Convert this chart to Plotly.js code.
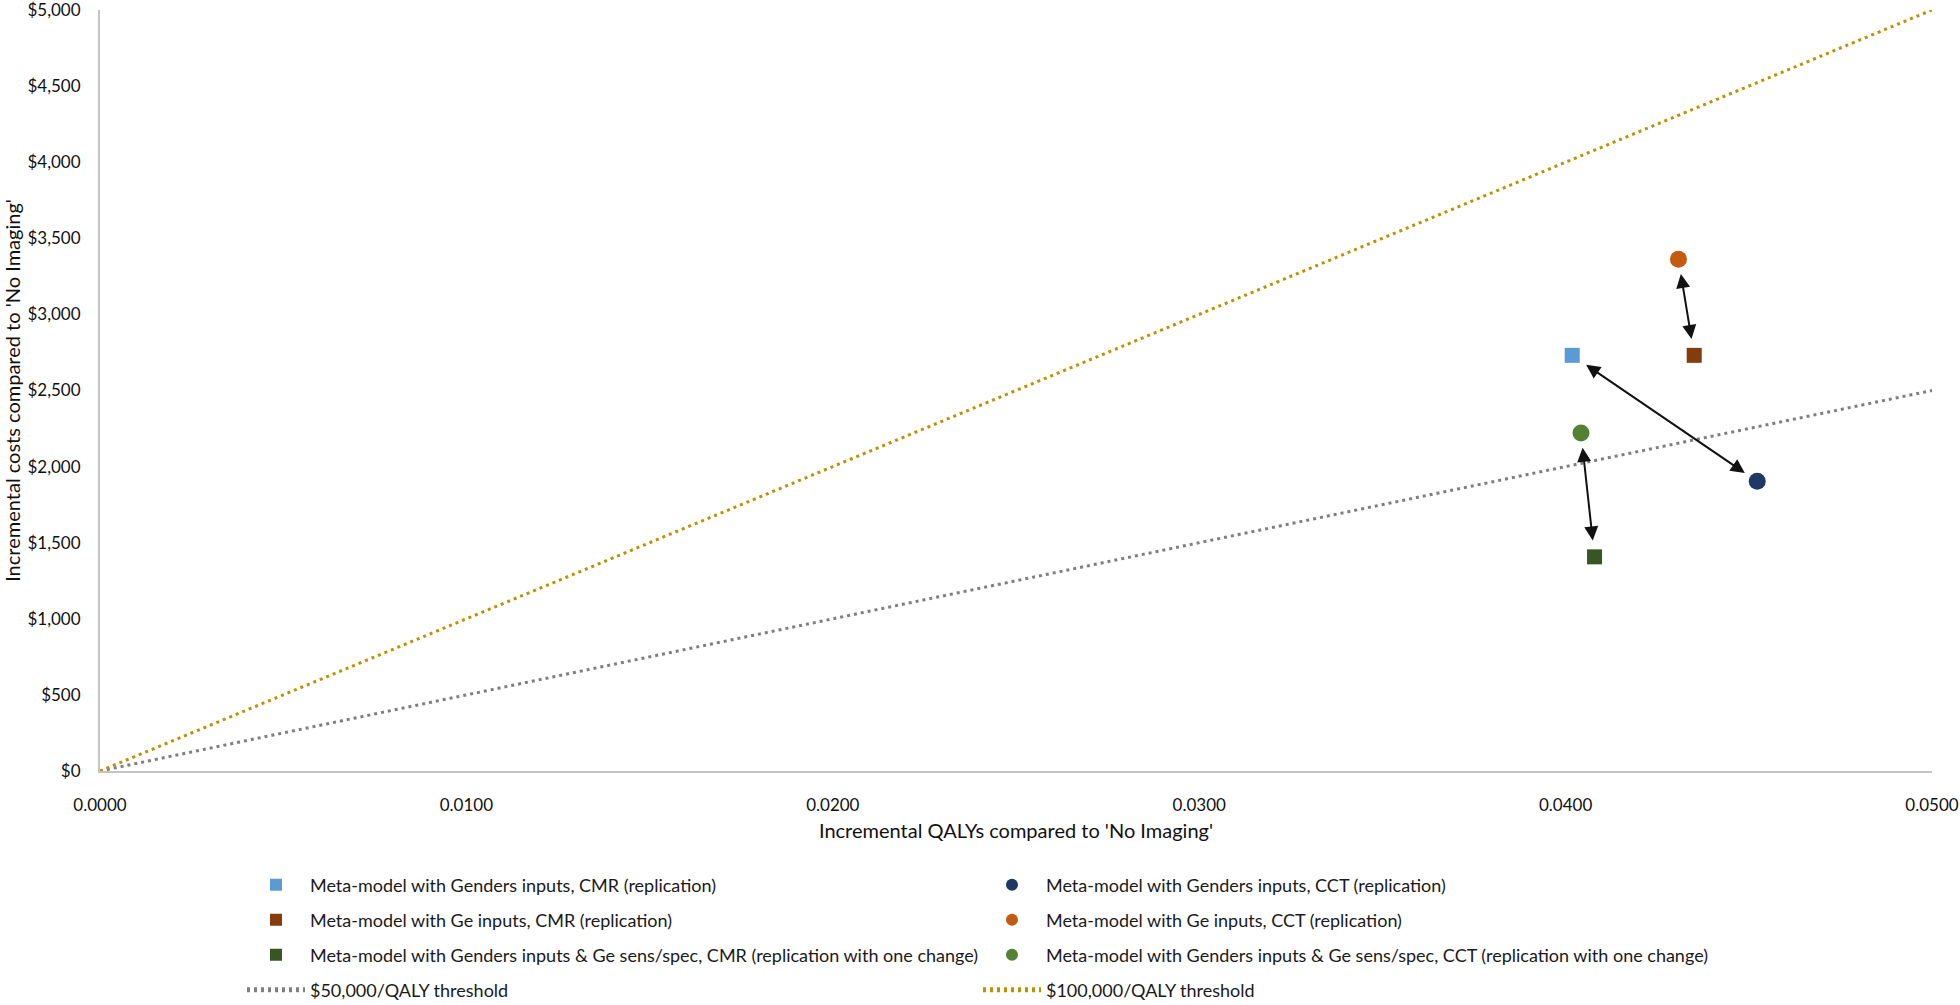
<!DOCTYPE html>
<html>
<head>
<meta charset="utf-8">
<script src="https://cdn.plot.ly/plotly-3.0.1.min.js"></script>
<style>
  html, body { margin: 0; padding: 0; background: #fff; }
  #plot { width: 1960px; height: 1005px; }
</style>
</head>
<body>
<div id="plot"></div>
<script>
// CMR results (squares): Genders inputs, Ge inputs, Genders inputs & Ge sens/spec
var cmrNames = [
  "Meta-model with Genders inputs, CMR (replication)",
  "Meta-model with Ge inputs, CMR (replication)",
  "Meta-model with Genders inputs & Ge sens/spec, CMR (replication with one change)"
];
var cmrQaly = [0.04018, 0.04351, 0.04079];
var cmrCost = [2731, 2731, 1407];

// CCT results (circles), same order
var cctNames = [
  "Meta-model with Genders inputs, CCT (replication)",
  "Meta-model with Ge inputs, CCT (replication)",
  "Meta-model with Genders inputs & Ge sens/spec, CCT (replication with one change)"
];
var cctQaly = [0.04523, 0.04308, 0.04042];
var cctCost = [1903, 3362, 2221];

// willingness-to-pay threshold lines
var thresholdNames = ["$50,000/QALY threshold", "$100,000/QALY threshold"];
var thresholdQaly = [0, 0.05];
var cost50k = [0, 2500];
var cost100k = [0, 5000];

var cmrColors = ["#5B9BD5", "#843C0C", "#375623"];
var cctColors = ["#1F3864", "#C55A11", "#548235"];

var FONT = "Lato, 'Open Sans', sans-serif";

var data = [];
var legendIds = ["legend", "legend2", "legend3"];
for (var i = 0; i < 3; i++) {
  data.push({
    x: [cmrQaly[i]], y: [cmrCost[i]],
    name: cmrNames[i], type: "scatter", mode: "markers",
    marker: { symbol: "square", size: 15, color: cmrColors[i] },
    legend: legendIds[i]
  });
  data.push({
    x: [cctQaly[i]], y: [cctCost[i]],
    name: cctNames[i], type: "scatter", mode: "markers",
    marker: { symbol: "circle", size: 17, color: cctColors[i] },
    legend: legendIds[i]
  });
}
data.push({
  x: thresholdQaly, y: cost50k, name: thresholdNames[0],
  type: "scatter", mode: "lines",
  line: { color: "#7F7F7F", width: 3, dash: "3px,4px" },
  legend: "legend4"
});
data.push({
  x: thresholdQaly, y: cost100k, name: thresholdNames[1],
  type: "scatter", mode: "lines",
  line: { color: "#BF9000", width: 3, dash: "3px,4px" },
  legend: "legend4"
});

// double-headed arrows linking CMR and CCT result for each input set
var annotations = [];
for (var j = 0; j < 3; j++) {
  annotations.push({
    x: cctQaly[j], y: cctCost[j], ax: cmrQaly[j], ay: cmrCost[j],
    xref: "x", yref: "y", axref: "x", ayref: "y",
    text: "", showarrow: true, arrowside: "end+start",
    arrowhead: 2, startarrowhead: 2, arrowsize: 1.4, startarrowsize: 1.4,
    arrowwidth: 2, arrowcolor: "#111",
    standoff: 15, startstandoff: 15
  });
}

// plot area spans 761px (top 10 -> bottom 771); rows sit at 885/920/955/990px
function legendRow(y) {
  return {
    orientation: "h", x: 0.0775, xanchor: "left", y: y, yanchor: "middle",
    entrywidth: 663, entrywidthmode: "pixels", itemsizing: "constant",
    itemwidth: 58,
    font: { family: FONT, size: 18, color: "#1a1a1a" },
    bgcolor: "rgba(0,0,0,0)", borderwidth: 0
  };
}

var layout = {
  width: 1960, height: 1005,
  paper_bgcolor: "#fff", plot_bgcolor: "#fff",
  margin: { l: 100, r: 28, t: 10, b: 234, autoexpand: false },
  font: { family: FONT, size: 17, color: "#1a1a1a" },
  showlegend: true,
  xaxis: {
    range: [0, 0.05], dtick: 0.01, tick0: 0, tickformat: ".4f",
    showgrid: false, zeroline: false, showline: true,
    linecolor: "#C4C4C4", linewidth: 2, ticks: "",
    ticklabelstandoff: 18, ticklabeloverflow: "allow",
    tickfont: { family: FONT, size: 17, color: "#111" },
    title: { text: "Incremental QALYs compared to 'No Imaging'", standoff: 10,
      font: { family: FONT, size: 20, color: "#111" } }
  },
  yaxis: {
    range: [0, 5000], dtick: 500, tick0: 0, tickformat: "$,.0f",
    showgrid: false, zeroline: false, showline: true,
    linecolor: "#C4C4C4", linewidth: 2, ticks: "",
    ticklabelstandoff: 14, ticklabeloverflow: "allow",
    tickfont: { family: FONT, size: 17, color: "#111" },
    title: { text: "Incremental costs compared to 'No Imaging'", standoff: 10,
      font: { family: FONT, size: 20, color: "#111" } }
  },
  legend: legendRow(-114 / 761),
  legend2: legendRow(-149 / 761),
  legend3: legendRow(-184 / 761),
  legend4: legendRow(-219 / 761),
  annotations: annotations
};

Plotly.newPlot("plot", data, layout, { displayModeBar: false });
</script>
</body>
</html>
